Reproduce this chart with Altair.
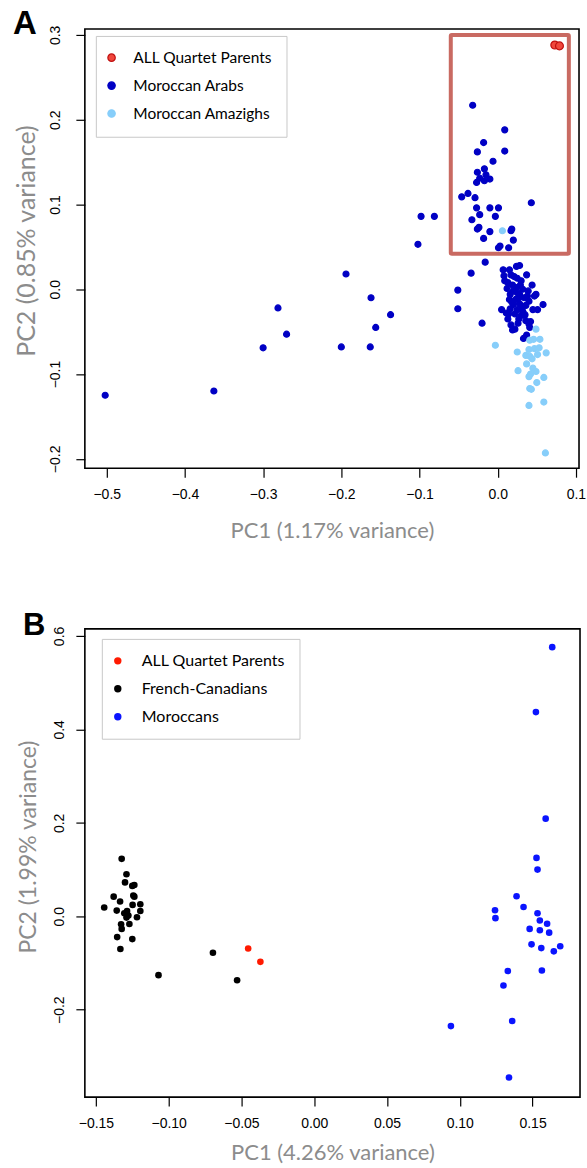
import altair as alt
import pandas as pd

# ---------------- Panel A: Moroccan sub-populations ----------------
a_arab_x = [-0.502, -0.363, -0.300, -0.281, -0.270, -0.200, -0.194, -0.163, -0.162, -0.156,
            -0.137, -0.102, -0.098, -0.081, -0.051, -0.051,
            -0.032, 0.009, -0.018, -0.026, 0.009, -0.006, -0.026, -0.017, -0.015, -0.023,
            -0.010, -0.027, -0.017, -0.046, -0.038, -0.029, 0.043, -0.027, -0.010, 0.001,
            -0.023, -0.003, -0.033, -0.026, -0.024, -0.010, 0.017, 0.018, -0.018, 0.020,
            0.001, 0.003, 0.014,
            -0.016, -0.034, -0.020, 0.005,
            0.007, 0.015, 0.024, 0.028, 0.037, 0.008, 0.017, 0.025, 0.013, 0.019, 0.044,
            0.012, 0.024, 0.032, 0.039, 0.049, 0.016, 0.028, 0.015, 0.023, 0.034, 0.040,
            0.020, 0.028, 0.036, 0.058, 0.016, 0.025, 0.032, 0.045, 0.051, 0.022, 0.030,
            0.013, 0.027, 0.036, 0.042, 0.017, 0.019, 0.041, 0.037, 0.033, 0.009, 0.030,
            0.047, 0.011, 0.025, 0.022, 0.040, 0.020, 0.027, 0.031, 0.018, 0.035, 0.026,
            0.021, 0.029, 0.014, 0.038]
a_arab_y = [-0.125, -0.120, -0.069, -0.022, -0.053, -0.068, 0.018, -0.068, -0.010, -0.045,
            -0.030, 0.053, 0.086, 0.086, -0.001, -0.023,
            0.217, 0.188, 0.173, 0.162, 0.163, 0.151, 0.138, 0.142, 0.135, 0.131,
            0.130, 0.126, 0.128, 0.109, 0.113, 0.108, 0.102, 0.096, 0.096, 0.096,
            0.088, 0.086, 0.082, 0.071, 0.073, 0.068, 0.069, 0.071, 0.060, 0.058,
            0.049, 0.051, 0.049,
            0.032, 0.019, -0.040, -0.024,
            0.023, 0.023, 0.027, 0.028, 0.017, 0.016, 0.017, 0.013, 0.008, 0.005, 0.005,
            0.001, 0.002, 0.000, -0.002, -0.006, -0.006, -0.006, -0.012, -0.012, -0.010, -0.014,
            -0.018, -0.017, -0.019, -0.018, -0.023, -0.024, -0.026, -0.024, -0.024, -0.029, -0.031,
            -0.035, -0.035, -0.037, -0.038, -0.042, -0.048, -0.045, -0.054, -0.058, 0.010, 0.010,
            -0.008, -0.028, -0.004, -0.047, -0.041, -0.002, -0.010, -0.020, -0.015, -0.030, -0.040,
            0.015, 0.005, -0.029, -0.008]

a_amazigh_x = [0.006, -0.003, 0.049, 0.046, 0.054, 0.041, 0.047, 0.053, 0.040, 0.025,
               0.062, 0.051, 0.036, 0.041, 0.044, 0.037, 0.045, 0.049, 0.026, 0.042,
               0.040, 0.059, 0.050, 0.041, 0.043, 0.059, 0.040, 0.061]
a_amazigh_y = [0.069, -0.066, -0.047, -0.059, -0.059, -0.060, -0.070, -0.069, -0.071, -0.074,
               -0.075, -0.077, -0.078, -0.079, -0.082, -0.088, -0.093, -0.097, -0.096, -0.100,
               -0.103, -0.104, -0.110, -0.117, -0.118, -0.133, -0.137, -0.193]

a_parent_x = [0.073, 0.079]
a_parent_y = [0.288, 0.287]

# highlighted region around the quartet parents
a_box_x = [-0.060]
a_box_x2 = [0.091]
a_box_y = [0.042]
a_box_y2 = [0.300]

# ---------------- Panel B: French-Canadians vs Moroccans ----------------
b_fc_x = [-0.1323, -0.129, -0.130, -0.125, -0.1236, -0.1378, -0.1243, -0.1236, -0.1334, -0.1443,
          -0.1248, -0.1195, -0.1357, -0.1286, -0.1305, -0.1195, -0.1277, -0.129, -0.1218, -0.127,
          -0.1327, -0.1323, -0.1354, -0.125, -0.1332, -0.107, -0.0696, -0.053]
b_fc_y = [0.123, 0.090, 0.0725, 0.065, 0.067, 0.042, 0.0445, 0.042, 0.0316, 0.0187,
          0.0243, 0.0258, 0.0122, 0.0114, 0.0065, 0.0114, 0.0015, -0.0028, -0.002, -0.0165,
          -0.0172, -0.027, -0.0445, -0.0488, -0.070, -0.126, -0.078, -0.137]

b_mor_x = [0.1635, 0.1523, 0.159, 0.1527, 0.1534, 0.139, 0.1242, 0.1245, 0.1438, 0.1534,
           0.155, 0.160, 0.148, 0.155, 0.1614, 0.1493, 0.156, 0.169, 0.1646, 0.133,
           0.1564, 0.130, 0.136, 0.0939, 0.1338]
b_mor_y = [0.576, 0.437, 0.209, 0.125, 0.100, 0.043, 0.013, -0.004, 0.020, 0.0065,
           -0.009, -0.016, -0.027, -0.030, -0.035, -0.060, -0.068, -0.064, -0.075, -0.117,
           -0.116, -0.148, -0.224, -0.235, -0.345]

b_parent_x = [-0.0454, -0.037]
b_parent_y = [-0.0688, -0.0975]

A_GROUPS = ["ALL Quartet Parents", "Moroccan Arabs", "Moroccan Amazighs"]
A_FILL = ["#f0473c", "#0000c4", "#87cefa"]
A_STROKE = ["#c01010", "#0000c4", "#87cefa"]
B_GROUPS = ["ALL Quartet Parents", "French-Canadians", "Moroccans"]
B_FILL = ["#ff1a00", "#000000", "#0a14ff"]


def frame(xs, ys, group):
    return pd.DataFrame({"pc1": xs, "pc2": ys, "group": group})


df_a = pd.concat([
    frame(a_arab_x, a_arab_y, "Moroccan Arabs"),
    frame(a_amazigh_x, a_amazigh_y, "Moroccan Amazighs"),
    frame(a_parent_x, a_parent_y, "ALL Quartet Parents"),
], ignore_index=True)
df_a["order"] = range(len(df_a))

df_b = pd.concat([
    frame(b_fc_x, b_fc_y, "French-Canadians"),
    frame(b_mor_x, b_mor_y, "Moroccans"),
    frame(b_parent_x, b_parent_y, "ALL Quartet Parents"),
], ignore_index=True)
df_b["order"] = range(len(df_b))

LABEL_FONT = "Liberation Sans"
TITLE_FONT = "Lato"
TITLE_COLOR = "#8c8c8c"


def x_axis(title, values, fmt, title_pad):
    return alt.Axis(title=title, values=values, format=fmt, domain=False, grid=False,
                    ticks=True, tickSize=9, tickColor="#000", tickWidth=1.2,
                    labelFont=LABEL_FONT, labelFontSize=14, labelColor="#000",
                    labelPadding=10, labelFlush=False, labelOverlap=False,
                    titleFont=TITLE_FONT, titleFontSize=22, titleFontWeight="normal",
                    titleColor=TITLE_COLOR, titlePadding=title_pad)


def y_axis(title, values, fmt, label_pad, title_size, title_pad, title_y):
    return alt.Axis(title=title, values=values, format=fmt, domain=False, grid=False,
                    ticks=True, tickSize=9, tickColor="#000", tickWidth=1.2,
                    labelFont=LABEL_FONT, labelFontSize=14, labelColor="#000",
                    labelAngle=-90, labelAlign="center", labelBaseline="bottom",
                    labelPadding=label_pad, labelFlush=False, labelOverlap=False,
                    titleFont=TITLE_FONT, titleFontSize=title_size, titleFontWeight="normal",
                    titleColor=TITLE_COLOR, titlePadding=title_pad, titleY=title_y)


def legend(x, y, font_size, label_offset, row_pad, label_expr=None):
    kw = dict(title=None, orient="none", legendX=x, legendY=y,
              strokeColor="#c8c8c8", fillColor="#ffffff", padding=14,
              labelFont=TITLE_FONT, labelFontSize=font_size, labelColor="#000",
              labelOffset=label_offset, rowPadding=row_pad, symbolSize=55,
              symbolOffset=-6, symbolStrokeWidth=1.2)
    if label_expr is not None:
        kw["labelExpr"] = label_expr
    return alt.Legend(**kw)


# ---- panel A ----
xa = alt.X("pc1:Q", scale=alt.Scale(domain=[-0.528, 0.104], nice=False, zero=False),
           axis=x_axis("PC1 (1.17% variance)", [-0.5, -0.4, -0.3, -0.2, -0.1, 0.0, 0.1], ".1f", 19))
ya = alt.Y("pc2:Q", scale=alt.Scale(domain=[-0.211, 0.307], nice=False, zero=False),
           axis=y_axis("PC2 (0.85% variance)", [-0.2, -0.1, 0.0, 0.1, 0.2, 0.3], ".1f", 13, 25, 9, 212))

# trailing no-break spaces only widen the framed legend box
leg_a = legend(11, 7, 15.5, 14, 11, label_expr="datum.label + '\u00a0\u00a0\u00a0'")
points_a = alt.Chart(df_a).mark_point(filled=True, opacity=1, strokeWidth=1.2).encode(
    x=xa, y=ya,
    fill=alt.Fill("group:N", scale=alt.Scale(domain=A_GROUPS, range=A_FILL), legend=leg_a),
    stroke=alt.Stroke("group:N", scale=alt.Scale(domain=A_GROUPS, range=A_STROKE), legend=leg_a),
    size=alt.condition(alt.datum.group == "ALL Quartet Parents", alt.value(62), alt.value(36)),
    order="order:Q",
)

box_a = alt.Chart(pd.DataFrame({"x": a_box_x, "x2": a_box_x2, "y": a_box_y, "y2": a_box_y2})).mark_rect(
    filled=False, stroke="#c96a62", strokeWidth=4, cornerRadius=1
).encode(x="x:Q", x2="x2:Q", y="y:Q", y2="y2:Q")

letter_a = alt.Chart(pd.DataFrame({"t": ["A"]})).mark_text(
    font=LABEL_FONT, fontSize=33, fontWeight="bold", align="left", baseline="alphabetic", color="#000"
).encode(text="t:N", x=alt.value(-72), y=alt.value(5))

panel_a = alt.layer(box_a, points_a, letter_a).properties(width=495, height=440)

# ---- panel B ----
xb = alt.X("pc1:Q", scale=alt.Scale(domain=[-0.1576, 0.1826], nice=False, zero=False),
           axis=x_axis("PC1 (4.26% variance)", [-0.15, -0.10, -0.05, 0.0, 0.05, 0.10, 0.15], ".2f", 12))
yb = alt.Y("pc2:Q", scale=alt.Scale(domain=[-0.387, 0.615], nice=False, zero=False),
           axis=y_axis("PC2 (1.99% variance)", [-0.2, 0.0, 0.2, 0.4, 0.6], ".1f", 9, 23, 12, 218))

points_b = alt.Chart(df_b).mark_circle(opacity=1, size=44).encode(
    x=xb, y=yb,
    color=alt.Color("group:N", scale=alt.Scale(domain=B_GROUPS, range=B_FILL),
                    legend=legend(17, 10, 16, 16, 12)),
    order="order:Q",
)

letter_b = alt.Chart(pd.DataFrame({"t": ["B"]})).mark_text(
    font=LABEL_FONT, fontSize=31, fontWeight="bold", align="left", baseline="alphabetic", color="#000"
).encode(text="t:N", x=alt.value(-62), y=alt.value(6))

panel_b = alt.layer(points_b, letter_b).properties(width=496, height=469)

chart = alt.vconcat(panel_a, panel_b, spacing=67).resolve_scale(
    fill="independent", stroke="independent", color="independent"
).resolve_legend(
    fill="independent", stroke="independent", color="independent"
).configure_view(
    stroke="#000", strokeWidth=1.6
).properties(padding={"left": 12, "top": 6, "right": 0, "bottom": 0}, background="#ffffff")

chart.save("out.html", embed_options={"renderer": "svg", "actions": False})
